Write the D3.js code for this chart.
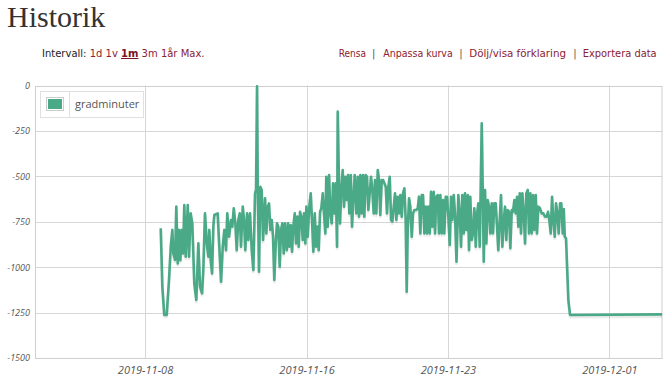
<!DOCTYPE html>
<html><head><meta charset="utf-8">
<script src="https://cdn.jsdelivr.net/npm/d3@7/dist/d3.min.js"></script>
<style>body{margin:0;background:#fff}svg{display:block}</style>
</head><body>
<svg id="c" width="672" height="382"></svg>
<script>
// ---------- data ----------
const title = "Historik";
const seriesName = "gradminuter";
const baseTime = "2019-11-08T00:00:00Z";          // hours below are counted from this instant
const xDomain = ["2019-11-02T13:12:00Z", "2019-12-03T15:12:00Z"];
const xTicks = ["2019-11-08", "2019-11-16", "2019-11-23", "2019-12-01"];
const yTicks = [0, -250, -500, -750, -1000, -1250, -1500];
const intervalLabel = "Intervall:";
const intervalLinks = ["1d", "1v", "1m", "3m", "1år", "Max."];
const actionLinks = ["Rensa", "Anpassa kurva", "Dölj/visa förklaring", "Exportera data"];

const hours = [
 18.7,20.6,22.9,25.8,28.5,30.6,32.5,33.6,35.7,37.2,
 38.9,40.4,42.0,43.6,45.2,46.7,48.4,50.8,52.3,54.3,
 56.2,58.6,61.0,63.4,65.4,67.8,69.3,71.3,73.4,75.3,
 76.4,78.1,79.7,81.2,82.4,86.4,88.3,90.4,92.4,94.3,
 96.3,97.8,99.9,102.2,103.8,105.5,107.4,109.0,110.9,112.6,
 114.1,116.2,117.7,119.2,121.3,122.8,124.8,126.9,128.8,130.8,
 132.0,133.2,134.0,135.5,137.1,138.7,140.3,142.7,144.2,145.9,
 147.4,149.0,150.6,152.2,153.7,155.4,156.9,158.5,160.1,161.7,
 163.2,164.9,166.4,168.5,170.0,171.6,173.2,174.8,176.3,178.0,
 179.5,181.1,182.7,184.3,185.8,187.5,189.0,190.6,191.8,193.4,
 195.3,197.0,198.5,200.1,201.8,203.3,204.8,206.5,208.1,209.6,
 211.3,212.8,214.4,215.5,217.2,218.8,220.3,222.0,223.5,225.1,
 226.7,228.3,229.1,230.3,231.8,233.4,235.0,236.6,238.1,239.8,
 241.3,242.9,244.6,246.1,247.6,249.3,251.2,252.9,254.4,256.0,
 257.6,259.2,260.7,262.4,263.9,265.5,267.1,268.7,270.2,271.9,
 273.4,275.0,276.7,278.2,279.7,281.4,283.0,286.2,287.7,289.3,
 290.9,292.5,294.0,295.7,297.2,298.8,300.4,302.0,303.5,305.2,
 306.7,308.3,309.9,311.1,312.3,313.9,315.4,317.1,318.6,320.2,
 322.5,324.2,325.7,327.3,329.0,330.5,332.1,333.7,335.3,336.8,
 338.5,340.0,341.6,343.2,344.8,346.3,348.0,349.5,351.1,352.7,
 354.3,355.8,357.5,359.0,360.6,362.3,363.8,365.3,367.0,368.5,
 370.3,372.5,374.1,375.7,377.2,378.9,380.4,382.0,383.7,385.2,
 386.7,388.4,389.9,391.5,393.2,394.7,396.3,397.9,399.1,400.3,
 401.5,402.7,404.2,405.8,407.4,409.0,410.5,412.2,413.7,415.3,
 416.9,418.5,420.0,421.7,423.2,424.8,426.5,428.0,429.5,431.2,
 432.8,434.3,436.0,437.5,439.1,440.7,442.3,443.8,445.5,447.0,
 448.6,450.2,451.8,453.3,455.0,456.5,458.1,459.7,461.3,462.8,
 464.5,466.0,467.6,469.6,471.6,473.5,475.6,477.6,479.1,480.7,
 482.3,483.9,485.4,487.1,488.6,490.2,491.8,493.4,494.9,496.6,
 497.8,499.0,500.5,503.3,505.3,614.6
];
const values = [
 -786,-1107,-1263,-1263,-1071,-887,-795,-924,-960,-667,
 -979,-795,-961,-795,-924,-658,-942,-658,-942,-704,
 -759,-1089,-1181,-869,-1107,-1144,-1016,-704,-869,-942,
 -795,-961,-1034,-777,-713,-704,-887,-1080,-887,-795,
 -906,-704,-832,-740,-777,-676,-759,-906,-740,-704,
 -887,-667,-740,-906,-704,-850,-704,-906,-1016,-594,
 -575,-5,-557,-1025,-557,-575,-850,-621,-814,-667,
 -649,-795,-740,-832,-1071,-869,-759,-777,-998,-795,
 -759,-924,-759,-906,-759,-887,-768,-915,-777,-704,
 -869,-722,-887,-695,-722,-850,-704,-869,-667,-832,
 -667,-594,-740,-915,-704,-887,-777,-906,-695,-676,
 -594,-704,-814,-502,-777,-493,-704,-759,-539,-704,
 -539,-887,-144,-465,-759,-575,-465,-667,-502,-630,
 -493,-704,-493,-777,-630,-493,-704,-502,-722,-493,
 -704,-493,-722,-493,-502,-685,-594,-502,-575,-704,
 -520,-704,-465,-520,-713,-520,-520,-557,-704,-557,
 -502,-740,-749,-667,-594,-740,-612,-704,-603,-722,
 -594,-566,-740,-1135,-795,-621,-667,-832,-704,-685,
 -685,-676,-612,-814,-603,-603,-814,-667,-814,-667,
 -814,-585,-777,-585,-814,-612,-603,-814,-603,-814,
 -630,-814,-612,-612,-722,-878,-612,-740,-603,-704,
 -970,-603,-704,-887,-603,-814,-594,-795,-603,-906,
 -612,-850,-814,-676,-887,-704,-649,-887,-566,-208,
 -575,-970,-575,-869,-630,-667,-814,-649,-814,-649,
 -649,-777,-906,-740,-603,-887,-740,-667,-850,-685,
 -695,-896,-685,-695,-630,-704,-612,-777,-594,-814,
 -594,-704,-869,-594,-575,-814,-594,-814,-603,-795,
 -603,-814,-667,-676,-704,-704,-722,-722,-695,-740,
 -814,-612,-740,-832,-649,-704,-814,-649,-649,-814,
 -680,-832,-841,-1181,-1263,-1260
];

// ---------- layout ----------
const svg = d3.select("#c");
const plot = {left: 35, right: 662.5, top: 85.5, bottom: 358};
const lineColor = "#4aaa87";
const linkColor = "#8b2131";
const gridColor = "#d6d6d6";

const base = new Date(baseTime).getTime();
const data = d3.range(Math.min(hours.length, values.length))
  .map(i => ({t: new Date(base + hours[i] * 3600e3), v: values[i]}));

const x = d3.scaleUtc().domain(xDomain.map(d => new Date(d))).range([plot.left, plot.right]);
const y = d3.scaleLinear().domain([-1500, 0]).range([plot.bottom, plot.top]);

// header
svg.append("text").attr("x", 7).attr("y", 26.5)
  .attr("font-family", "'Liberation Serif', serif").attr("font-size", 30)
  .attr("fill", "#333").text(title);

const iv = svg.append("text").attr("x", 42).attr("y", 57)
  .attr("font-family", "'DejaVu Sans', sans-serif").attr("font-size", 10)
  .style("white-space", "pre");
iv.append("tspan").attr("fill", "#222").text(intervalLabel + " ");
intervalLinks.forEach((l, i) => {
  const ts = iv.append("tspan").attr("fill", linkColor).text(l);
  if (l === "1m") ts.attr("font-weight", "bold").attr("text-decoration", "underline").attr("fill", "#7a1424");
  if (i < intervalLinks.length - 1) iv.append("tspan").text(" ");
});

// action links placed at the reference's positions
const linkX = [338.7, 383.3, 469.3, 582.7];
const linkW = [27.3, 69.4, 96.7, 74];
const sepX = [372, 459.3, 573.3];
const hdr = svg.append("g").attr("font-family", "'DejaVu Sans', sans-serif").attr("font-size", 10);
hdr.selectAll("text.l").data(actionLinks).join("text")
  .attr("x", (d, i) => linkX[i]).attr("y", 57).attr("fill", linkColor)
  .attr("textLength", (d, i) => linkW[i]).attr("lengthAdjust", "spacingAndGlyphs")
  .text(d => d);
hdr.selectAll("text.s").data(sepX).join("text")
  .attr("x", d => d).attr("y", 57).attr("fill", "#555").text("|");

// grid
const g = svg.append("g");
g.selectAll("line.h").data(yTicks).join("line")
  .attr("x1", plot.left).attr("x2", plot.right)
  .attr("y1", d => Math.round(y(d)) + 0.5).attr("y2", d => Math.round(y(d)) + 0.5)
  .attr("stroke", gridColor);
g.selectAll("line.v").data(xTicks).join("line")
  .attr("x1", d => Math.round(x(new Date(d + "T00:00:00Z"))) + 0.5)
  .attr("x2", d => Math.round(x(new Date(d + "T00:00:00Z"))) + 0.5)
  .attr("y1", plot.top).attr("y2", plot.bottom)
  .attr("stroke", gridColor);
g.append("rect").attr("x", plot.left + 0.5).attr("y", Math.round(plot.top) + 0.5)
  .attr("width", plot.right - plot.left - 1).attr("height", Math.round(plot.bottom) - Math.round(plot.top))
  .attr("fill", "none").attr("stroke", "#cfcfcf");

// axes
const xAxis = d3.axisBottom(x)
  .tickValues(xTicks.map(d => new Date(d + "T00:00:00Z")))
  .tickFormat(d3.utcFormat("%Y-%m-%d")).tickSize(0).tickPadding(8);
const xa = svg.append("g").attr("transform", `translate(0,${plot.bottom})`).call(xAxis);
xa.select(".domain").remove();
xa.selectAll("text").attr("font-family", "'Open Sans', sans-serif").attr("font-size", 11)
  .attr("font-style", "italic").attr("fill", "#555");

const yAxis = d3.axisLeft(y).tickValues(yTicks).tickFormat(d => String(d)).tickSize(0).tickPadding(5);
const ya = svg.append("g").attr("transform", `translate(${plot.left},0)`).call(yAxis);
ya.select(".domain").remove();
ya.selectAll("text").attr("font-family", "'Open Sans', sans-serif").attr("font-size", 9)
  .attr("font-style", "italic").attr("fill", "#555");

// series
const line = d3.line().x(d => x(d.t)).y(d => y(d.v));
svg.append("path").datum(data).attr("d", line)
  .attr("transform", "translate(0,2)")
  .attr("fill", "none").attr("stroke", "rgba(0,0,0,0.08)").attr("stroke-width", 3)
  .attr("stroke-linejoin", "round");
svg.append("path").datum(data).attr("d", line)
  .attr("fill", "none").attr("stroke", lineColor).attr("stroke-width", 2.6)
  .attr("stroke-linejoin", "round");

// legend
const lg = svg.append("g");
lg.append("rect").attr("x", 40.5).attr("y", 91.5).attr("width", 103).attr("height", 26)
  .attr("fill", "rgba(255,255,255,0.85)").attr("stroke", "#e0e0e0");
lg.append("line").attr("x1", 69.5).attr("x2", 69.5).attr("y1", 91.5).attr("y2", 117.5).attr("stroke", "#e0e0e0");
lg.append("rect").attr("x", 46.5).attr("y", 97.5).attr("width", 17).attr("height", 13)
  .attr("fill", "#fff").attr("stroke", "#ccc");
lg.append("rect").attr("x", 48).attr("y", 99).attr("width", 14).attr("height", 10).attr("fill", lineColor);
lg.append("text").attr("x", 75).attr("y", 108)
  .attr("font-family", "'Open Sans', sans-serif").attr("font-size", 11)
  .attr("fill", "#555").text(seriesName);
</script>
</body></html>
